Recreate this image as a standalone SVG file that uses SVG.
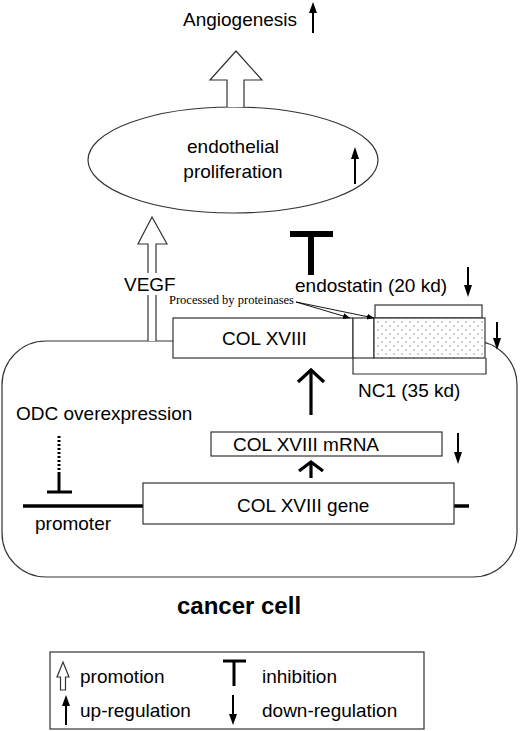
<svg xmlns="http://www.w3.org/2000/svg" width="520" height="731" viewBox="0 0 520 731">
<defs>
<style>
.t{font-family:"Liberation Sans",Arial,sans-serif;font-size:19px;fill:#000}
.s{font-family:"Liberation Serif","Times New Roman",serif;font-size:12.5px;fill:#000}
.b{font-family:"Liberation Sans",Arial,sans-serif;font-size:24px;font-weight:bold;fill:#000}
.box{fill:#fff;stroke:#333;stroke-width:1.2}
.open{fill:#fff;stroke:#333;stroke-width:1.2}
.thin{stroke:#000;stroke-width:2;fill:none}
.thick{stroke:#000;stroke-width:3.2;fill:none}
.head{fill:#000}
</style>
<pattern id="dots" width="8" height="8" patternUnits="userSpaceOnUse">
<rect width="8" height="8" fill="#fff"/>
<circle cx="2" cy="2" r="0.7" fill="#777"/>
<circle cx="6" cy="6" r="0.7" fill="#777"/>
</pattern>
<marker id="ah" markerWidth="8" markerHeight="8" refX="7" refY="4" orient="auto" markerUnits="userSpaceOnUse">
<path d="M0,1 L7,4 L0,7 Z" fill="#000"/>
</marker>
</defs>

<g id="cell">
<rect x="2" y="341" width="515" height="236" rx="44" ry="44" fill="none" stroke="#333" stroke-width="1.2"/>
<text class="b" x="239" y="614" text-anchor="middle">cancer cell</text>
</g>

<g id="angiogenesis">
<text class="t" x="183" y="26">Angiogenesis</text>
<line class="thin" x1="313" y1="33" x2="313" y2="10"/>
<path class="head" d="M309,13 L313,2 L317,13 Z"/>
</g>

<g id="endothelial">
<ellipse cx="233" cy="160" rx="145" ry="53" fill="#fff" stroke="#333" stroke-width="1.2"/>
<text class="t" x="233" y="153" text-anchor="middle">endothelial</text>
<text class="t" x="233" y="178" text-anchor="middle">proliferation</text>
<line class="thin" x1="355" y1="184" x2="355" y2="156"/>
<path class="head" d="M351,159 L355,147 L359,159 Z"/>
</g>

<g id="endostatin">
<text class="t" x="295" y="292">endostatin (20 kd)</text>
<line class="thin" x1="468" y1="267" x2="468" y2="288"/>
<path class="head" d="M464,285 L468,297 L472,285 Z"/>
<rect class="box" x="375" y="305" width="107" height="13"/>
</g>

<g id="colxviii">
<rect class="box" x="173" y="318" width="180" height="40"/>
<rect class="box" x="353" y="318" width="21" height="40"/>
<rect x="374" y="318" width="111" height="40" fill="url(#dots)" stroke="#333" stroke-width="1.2"/>
<text class="t" x="222" y="345">COL XVIII</text>
<line class="thin" x1="497" y1="322" x2="497" y2="340"/>
<path class="head" d="M493,338 L497,350 L501,338 Z"/>
</g>

<g id="nc1">
<path d="M353,358 L353,374 L486,374 L486,358" fill="none" stroke="#333" stroke-width="1.2"/>
<text class="t" x="358" y="397">NC1 (35 kd)</text>
</g>

<g id="processed">
<text class="s" x="169" y="304">Processed by proteinases</text>
</g>

<g id="mrna">
<rect class="box" x="211" y="432" width="231" height="24"/>
<text class="t" x="233" y="451">COL XVIII mRNA</text>
<line class="thin" x1="458" y1="433" x2="458" y2="455"/>
<path class="head" d="M454,452 L458,464 L462,452 Z"/>
</g>

<g id="gene">
<line x1="23" y1="506" x2="143" y2="506" stroke="#000" stroke-width="3.5"/>
<line x1="454" y1="506" x2="469" y2="506" stroke="#000" stroke-width="3.5"/>
<rect class="box" x="143" y="483" width="311" height="41"/>
<text class="t" x="237" y="512">COL XVIII gene</text>
<text class="t" x="35" y="530">promoter</text>
</g>

<g id="odc">
<text class="t" x="16" y="420">ODC overexpression</text>
</g>

<g id="connectors">
<path class="open" d="M227,107 L227,80 L210,80 L236,51 L262,80 L244,80 L244,107"/>
<path class="open" d="M148,341 L148,244 L138,244 L152,217 L167,244 L156,244 L156,341"/>
<rect x="123" y="273" width="56" height="22" fill="#fff"/>
<text class="t" x="124" y="291">VEGF</text>
<path d="M311,275 L311,234 M290,234 L333,234" stroke="#000" stroke-width="6" fill="none"/>
<line x1="296" y1="302" x2="350" y2="318" stroke="#000" stroke-width="0.9" marker-end="url(#ah)"/>
<line x1="296" y1="302" x2="374" y2="318" stroke="#000" stroke-width="0.9" marker-end="url(#ah)"/>
<line class="thick" x1="311" y1="415" x2="311" y2="371"/>
<path class="thick" d="M298,382 L311,370 L324,382"/>
<line class="thick" x1="311" y1="478" x2="311" y2="463"/>
<path class="thick" d="M299,471 L311,462 L323,471"/>
<line x1="59" y1="436" x2="59" y2="473" stroke="#000" stroke-width="3" stroke-dasharray="2,2"/>
<line x1="59" y1="473" x2="59" y2="492" stroke="#000" stroke-width="3"/>
<line x1="47" y1="492" x2="72" y2="492" stroke="#000" stroke-width="3"/>
</g>

<g id="legend">
<rect x="50" y="652" width="374" height="77" fill="#fff" stroke="#333" stroke-width="1.2"/>
<path class="open" d="M60.5,690 L60.5,677 L57,677 L63,662 L69,677 L65.5,677 L65.5,690 Z"/>
<text class="t" x="80" y="683">promotion</text>
<path d="M234,686 L234,661 M223,661 L246,661" stroke="#000" stroke-width="3" fill="none"/>
<text class="t" x="262" y="683">inhibition</text>
<line class="thin" x1="66" y1="725" x2="66" y2="704"/>
<path class="head" d="M62,706 L66,695 L70,706 Z"/>
<text class="t" x="80" y="717">up-regulation</text>
<line class="thin" x1="233" y1="695" x2="233" y2="716"/>
<path class="head" d="M229,714 L233,725 L237,714 Z"/>
<text class="t" x="262" y="717">down-regulation</text>
</g>
</svg>
